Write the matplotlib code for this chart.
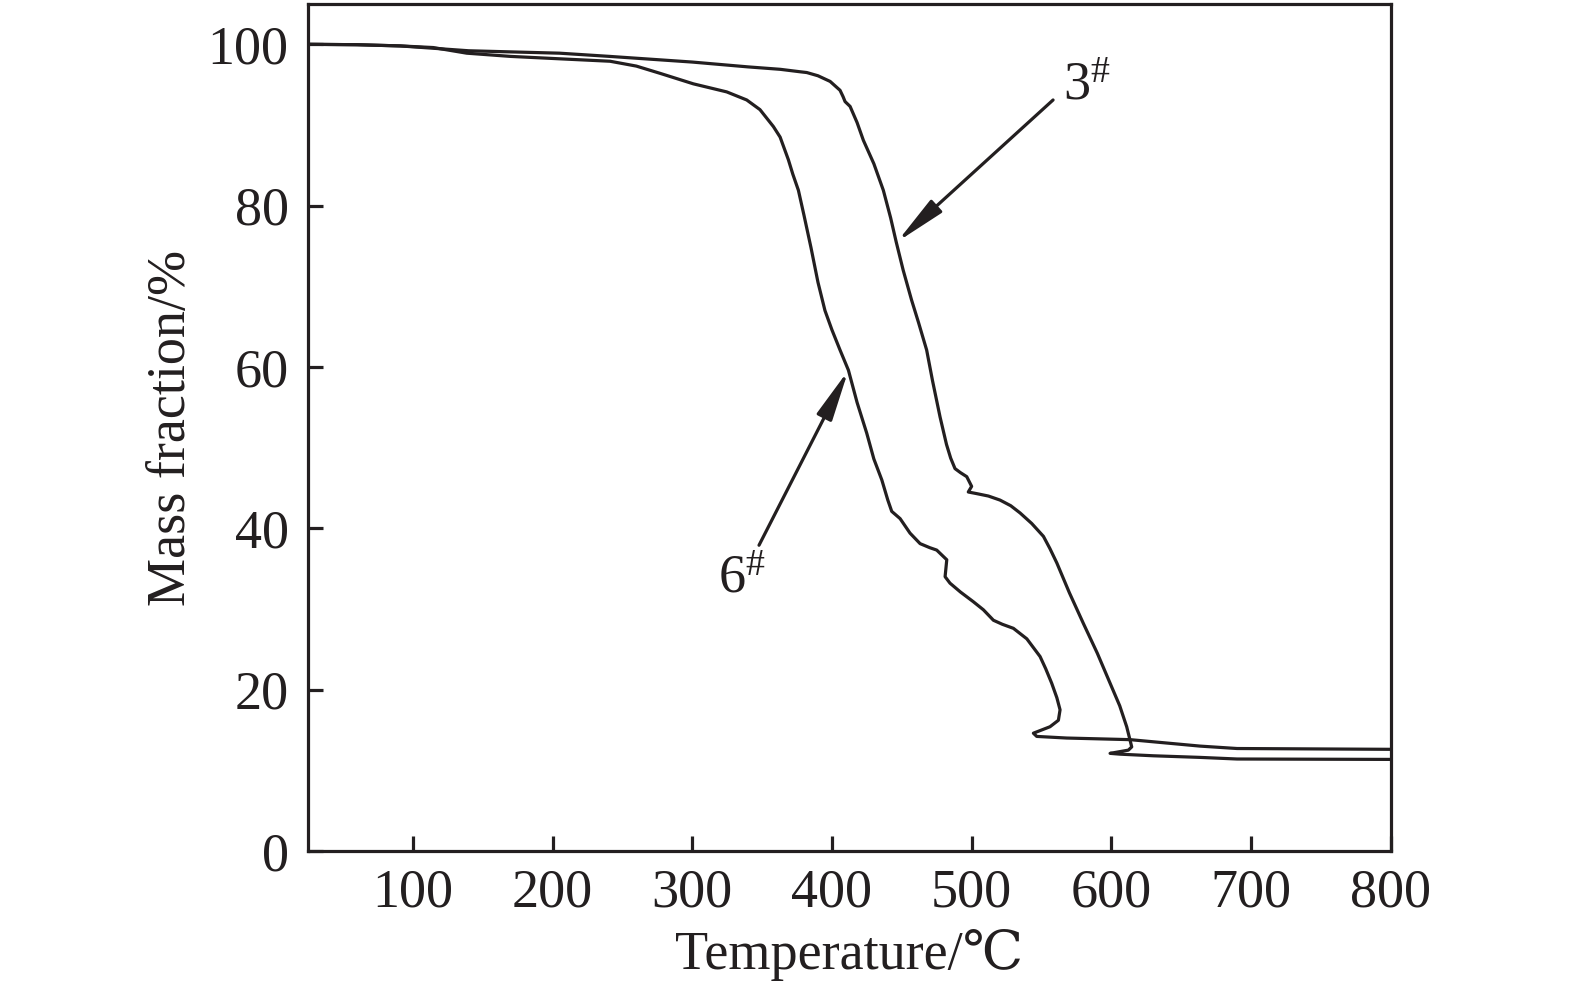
import matplotlib
matplotlib.use('Agg')
import matplotlib.pyplot as plt

# TGA curves
temp_3 = [25, 60, 91, 140, 205, 241, 300, 340, 363, 377, 382, 390, 398.7, 405.8, 408, 409.4, 413,
          418, 422.5, 430, 436.8, 442, 446, 451, 457, 462, 467.8, 472, 477.4, 482, 485, 488.1,
          492, 496.5, 500, 497.6, 503.6, 512, 520.3, 528, 534.7, 543, 551.4, 556, 561, 570, 580,
          590, 599.1, 606, 611, 614.6, 612.2, 599.1, 606.2, 630, 663.5, 690, 800]
mass_3 = [100, 99.95, 99.8, 99.2, 98.9, 98.5, 97.8, 97.2, 96.9, 96.6, 96.5, 96.1, 95.4, 94.3, 93.5, 92.9, 92.3,
          90.3, 88.1, 85.2, 81.9, 78.5, 75.5, 72.0, 68.3, 65.5, 62.1, 58.3, 53.8, 50.4, 48.7, 47.4,
          46.9, 46.4, 45.2, 44.5, 44.3, 44.0, 43.5, 42.8, 41.9, 40.6, 39.0, 37.5, 35.7, 32.0, 28.2,
          24.5, 20.8, 18.0, 15.4, 12.9, 12.5, 12.1, 12.0, 11.8, 11.6, 11.4, 11.35]

temp_6 = [25, 60, 91, 114.5, 138.6, 170, 205.4, 241.2, 260, 277, 300.8, 324.7, 339, 348.5, 358.1,
          362.9, 368.8, 372, 376, 380, 385, 390, 395, 400, 405.8, 411.8, 418, 424.9, 430, 435.7,
          440, 442.8, 448.8, 455.9, 463.1, 470, 475, 482.2, 481, 484.5, 492, 501.2, 508.4, 515.6,
          522, 529.9, 539.5, 549, 553, 557.3, 561, 563.3, 562.1, 556.1, 544.2, 546.6, 568, 613.4,
          663.5, 690, 800]
mass_6 = [100, 99.95, 99.8, 99.6, 98.9, 98.5, 98.2, 97.9, 97.3, 96.4, 95.1, 94.1, 93.1, 91.9, 89.8,
          88.5, 85.7, 83.9, 81.9, 78.8, 74.8, 70.5, 67.0, 64.6, 62.1, 59.6, 55.6, 51.8, 48.6, 46.0,
          43.5, 42.1, 41.2, 39.4, 38.1, 37.6, 37.3, 36.1, 34.0, 33.2, 32.1, 30.9, 29.9, 28.6,
          28.1, 27.6, 26.3, 24.1, 22.6, 20.8, 19.0, 17.5, 16.2, 15.4, 14.6, 14.2, 14.0, 13.8,
          13.0, 12.7, 12.6]

x_ticks = [100, 200, 300, 400, 500, 600, 700, 800]
y_ticks = [0, 20, 40, 60, 80, 100]

plt.rcParams['font.family'] = ['Liberation Serif', 'DejaVu Serif']
plt.rcParams['mathtext.fontset'] = 'custom'
plt.rcParams['mathtext.rm'] = 'Liberation Serif'
plt.rcParams['mathtext.default'] = 'regular'

fig = plt.figure(figsize=(15.75, 9.94), dpi=100)
ax = fig.add_axes([0.1956, 0.1439, 0.6874, 0.8521])

lc = '#231f20'
ax.plot(temp_3, mass_3, color=lc, lw=2.3, solid_joinstyle='round')
ax.plot(temp_6, mass_6, color=lc, lw=2.3, solid_joinstyle='round')

ax.set_xlim(25, 800)
ax.set_ylim(0, 105)
ax.set_xticks(x_ticks)
ax.set_yticks(y_ticks)
ax.tick_params(direction='in', length=11, width=2.3, labelsize=39, color=lc, labelcolor=lc)
ax.tick_params(axis='x', pad=12)
ax.tick_params(axis='y', pad=14)
for s in ax.spines.values():
    s.set_linewidth(2.3)
    s.set_color(lc)

ax.set_xlabel('Temperature/℃', fontsize=39, color=lc, labelpad=8)
ax.set_ylabel('Mass fraction/%', fontsize=39, color=lc, labelpad=8)

# arrows and sample labels
arrow = dict(arrowstyle='-|>,head_length=1.1,head_width=0.18', color=lc, lw=2.3,
             shrinkA=0, shrinkB=0, mutation_scale=28)
ax.annotate('', xy=(446.6, 75.5), xytext=(558.3, 93.1), arrowprops=arrow)
ax.annotate('', xy=(411.8, 59.6), xytext=(347.8, 37.9), arrowprops=arrow)
ax.text(565.4, 93.1, r'3$^{\#}$', fontsize=39, color=lc, ha='left', va='baseline')
ax.text(318.5, 32.1, r'6$^{\#}$', fontsize=39, color=lc, ha='left', va='baseline')

fig.savefig('out.png', dpi=100)
